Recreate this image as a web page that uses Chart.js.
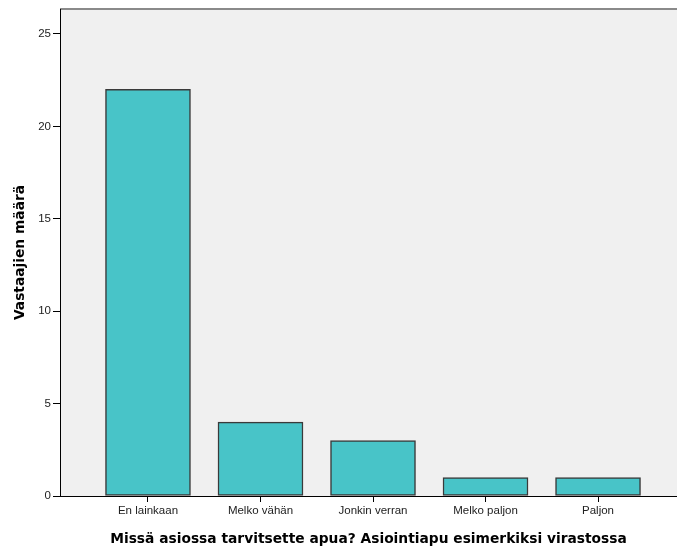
<!DOCTYPE html>
<html>
<head>
<meta charset="utf-8">
<script src="https://cdn.jsdelivr.net/npm/chart.js@4/dist/chart.umd.min.js"></script>
<style>
    html, body { margin: 0; padding: 0; background: #fff; }
    #wrap { width: 677px; height: 549px; }
</style>
</head>
<body>
<div id="wrap"><canvas id="chartCanvas" width="677" height="549"></canvas></div>
<script>
const categories = ['En lainkaan', 'Melko vähän', 'Jonkin verran', 'Melko paljon', 'Paljon'];
const counts = [22, 4, 3, 1, 1];
const yTicks = [0, 5, 10, 15, 20, 25];

const plotBackground = {
    id: 'plotBackground',
    beforeDraw(chart) {
        const { ctx, chartArea } = chart;
        ctx.save();
        ctx.fillStyle = '#f0f0f0';
        ctx.fillRect(chartArea.left, chartArea.top, chartArea.right - chartArea.left, chartArea.bottom - chartArea.top);
        ctx.strokeStyle = '#8a8a8a';
        ctx.lineWidth = 2;
        ctx.beginPath();
        ctx.moveTo(chartArea.left, chartArea.top);
        ctx.lineTo(chartArea.right, chartArea.top);
        ctx.stroke();
        ctx.restore();
    }
};

const ctx = document.getElementById('chartCanvas').getContext('2d');
new Chart(ctx, {
    type: 'bar',
    data: {
        datasets: [{
            data: counts.map((v, i) => ({ x: i, y: v })),
            backgroundColor: '#48c4c8',
            borderColor: '#3a3a3a',
            borderWidth: 1.5,
            borderSkipped: false,
            barThickness: 85
        }]
    },
    options: {
        responsive: false,
        animation: false,
        layout: { padding: { top: 9, right: 0, left: 0, bottom: 0 } },
        plugins: {
            legend: { display: false },
            tooltip: { enabled: false }
        },
        scales: {
            x: {
                type: 'linear',
                offset: false,
                min: -0.782,
                max: 4.702,
                afterBuildTicks: scale => {
                    scale.ticks = categories.map((c, i) => ({ value: i }));
                },
                afterFit: scale => { scale.height = 53; },
                ticks: {
                    callback: v => categories[v],
                    color: '#222',
                    font: { family: 'Liberation Sans', size: 11.5 },
                    padding: 2,
                    maxRotation: 0,
                    autoSkip: false
                },
                grid: { display: true, offset: false, drawOnChartArea: false, drawTicks: true, tickLength: 6, color: '#000' },
                border: { display: true, color: '#000', width: 1 },
                title: {
                    display: true,
                    text: 'Missä asiossa tarvitsette apua? Asiointiapu esimerkiksi virastossa',
                    color: '#000',
                    font: { family: 'DejaVu Sans', size: 13.8, weight: 'bold' },
                    padding: { top: 0, bottom: 1 }
                }
            },
            y: {
                min: 0,
                max: 26.35,
                afterBuildTicks: scale => {
                    scale.ticks = yTicks.map(v => ({ value: v }));
                },
                afterFit: scale => { scale.width = 60; },
                ticks: {
                    color: '#222',
                    font: { family: 'Liberation Sans', size: 11.5 },
                    padding: 2
                },
                grid: { display: true, drawOnChartArea: false, drawTicks: true, tickLength: 7, color: '#000' },
                border: { display: true, color: '#000', width: 1 },
                title: {
                    display: true,
                    text: 'Vastaajien määrä',
                    color: '#000',
                    font: { family: 'DejaVu Sans', size: 13.8, weight: 'bold' },
                    padding: { top: 12, bottom: 0 }
                }
            }
        }
    },
    plugins: [plotBackground]
});
</script>
</body>
</html>
